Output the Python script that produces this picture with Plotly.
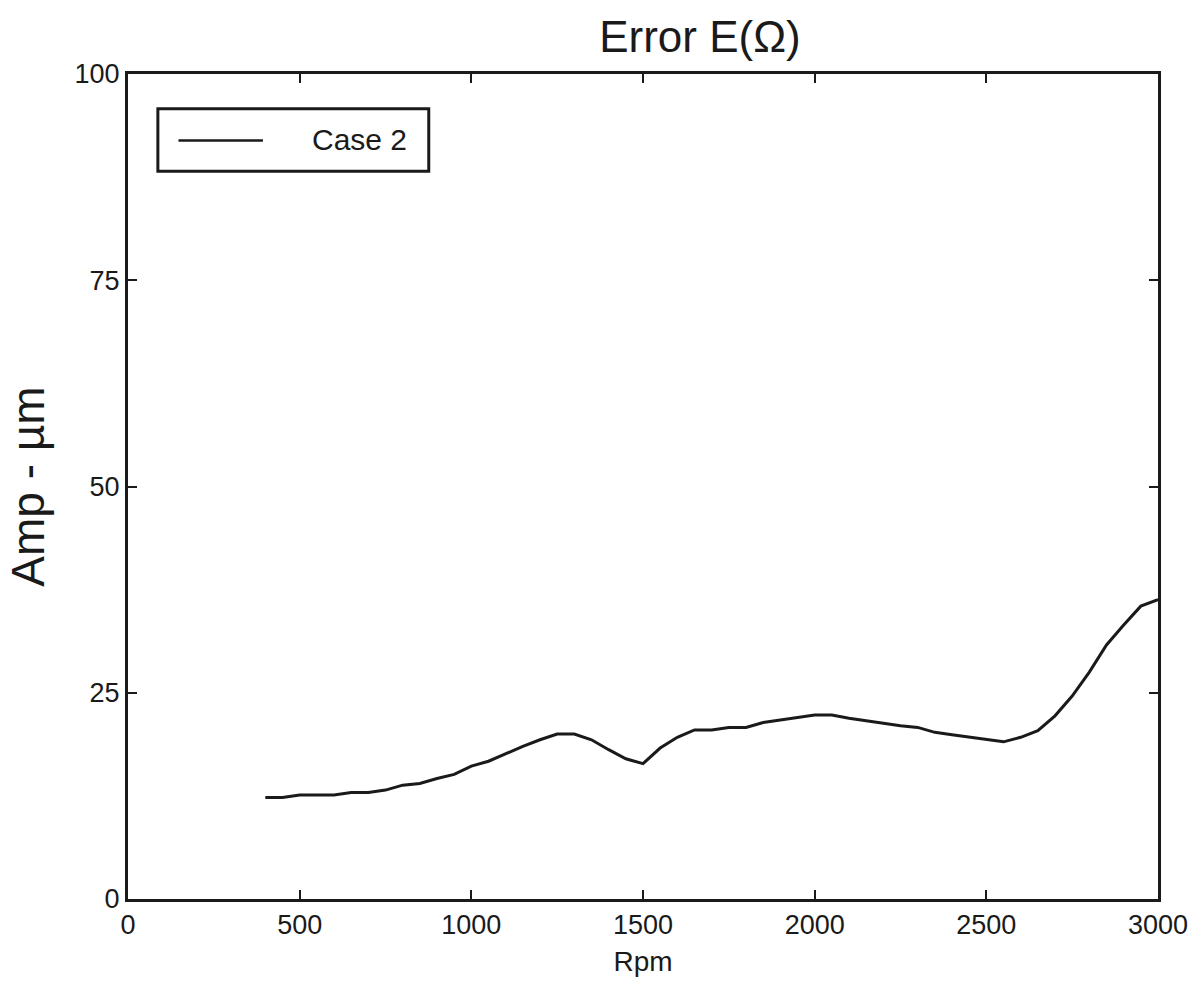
import plotly.graph_objects as go

# Rotor speed (rpm) and measured error amplitude (µm)
rpm = [400, 450, 500, 550, 600, 650, 700, 750, 800, 850, 900, 950, 1000,
       1050, 1100, 1150, 1200, 1250, 1300, 1350, 1400, 1450, 1500, 1550,
       1600, 1650, 1700, 1750, 1800, 1850, 1900, 1950, 2000, 2050, 2100,
       2150, 2200, 2250, 2300, 2350, 2400, 2450, 2500, 2550, 2600, 2650,
       2700, 2750, 2800, 2850, 2900, 2950, 3000]
amp_case2 = [12.3, 12.3, 12.6, 12.6, 12.6, 12.9, 12.9, 13.2, 13.8, 14.0,
             14.6, 15.1, 16.1, 16.7, 17.6, 18.5, 19.3, 20.0, 20.0, 19.3,
             18.1, 17.0, 16.4, 18.3, 19.6, 20.5, 20.5, 20.8, 20.8, 21.4,
             21.7, 22.0, 22.3, 22.3, 21.9, 21.6, 21.3, 21.0, 20.8, 20.2,
             19.9, 19.6, 19.35, 19.05, 19.6, 20.4, 22.2, 24.6, 27.5, 30.8,
             33.2, 35.5, 36.3]

x_ticks = [0, 500, 1000, 1500, 2000, 2500, 3000]
y_ticks = [0, 25, 50, 75, 100]
series_name = "Case 2"

INK = "#1a1a1a"
FONT = "Liberation Sans, Arial, Helvetica, sans-serif"

fig = go.Figure()
fig.add_trace(go.Scatter(
    x=rpm, y=amp_case2, mode="lines", name=series_name,
    line=dict(color=INK, width=3), showlegend=False,
))

axis_common = dict(
    showgrid=False, zeroline=False, showline=True, linecolor=INK,
    linewidth=3, mirror="ticks", ticks="inside", ticklen=9, tickwidth=2,
    tickcolor=INK, tickfont=dict(family=FONT, size=27, color=INK),
)

fig.update_xaxes(
    range=[0, 3000], tickvals=x_ticks, ticktext=[str(v) for v in x_ticks],
    title=dict(text="Rpm", font=dict(family=FONT, size=28, color=INK), standoff=12),
    **axis_common,
)
fig.update_yaxes(
    range=[0, 100], tickvals=y_ticks, ticktext=[str(v) for v in y_ticks],
    title=dict(text="Amp - µm", font=dict(family=FONT, size=46, color=INK), standoff=16),
    **axis_common,
)

# Legend box drawn in paper coordinates
fig.add_shape(type="rect", xref="paper", yref="paper",
              x0=0.029, x1=0.292, y0=0.882, y1=0.958,
              line=dict(color=INK, width=3), fillcolor="white")
fig.add_shape(type="line", xref="paper", yref="paper",
              x0=0.049, x1=0.131, y0=0.9195, y1=0.9195,
              line=dict(color=INK, width=2.5))
fig.add_annotation(xref="paper", yref="paper", x=0.177, y=0.92,
                   xanchor="left", yanchor="middle", showarrow=False,
                   text=series_name, font=dict(family=FONT, size=30, color=INK))

fig.update_layout(
    width=1200, height=985,
    margin=dict(l=128, r=38, t=74, b=86),
    paper_bgcolor="white", plot_bgcolor="white",
    title=dict(text="Error E(Ω)", x=0.5833, xanchor="center",
               y=0.963, yanchor="middle",
               font=dict(family=FONT, size=44, color=INK)),
    font=dict(family=FONT, color=INK),
)

fig.write_html("out.html")
